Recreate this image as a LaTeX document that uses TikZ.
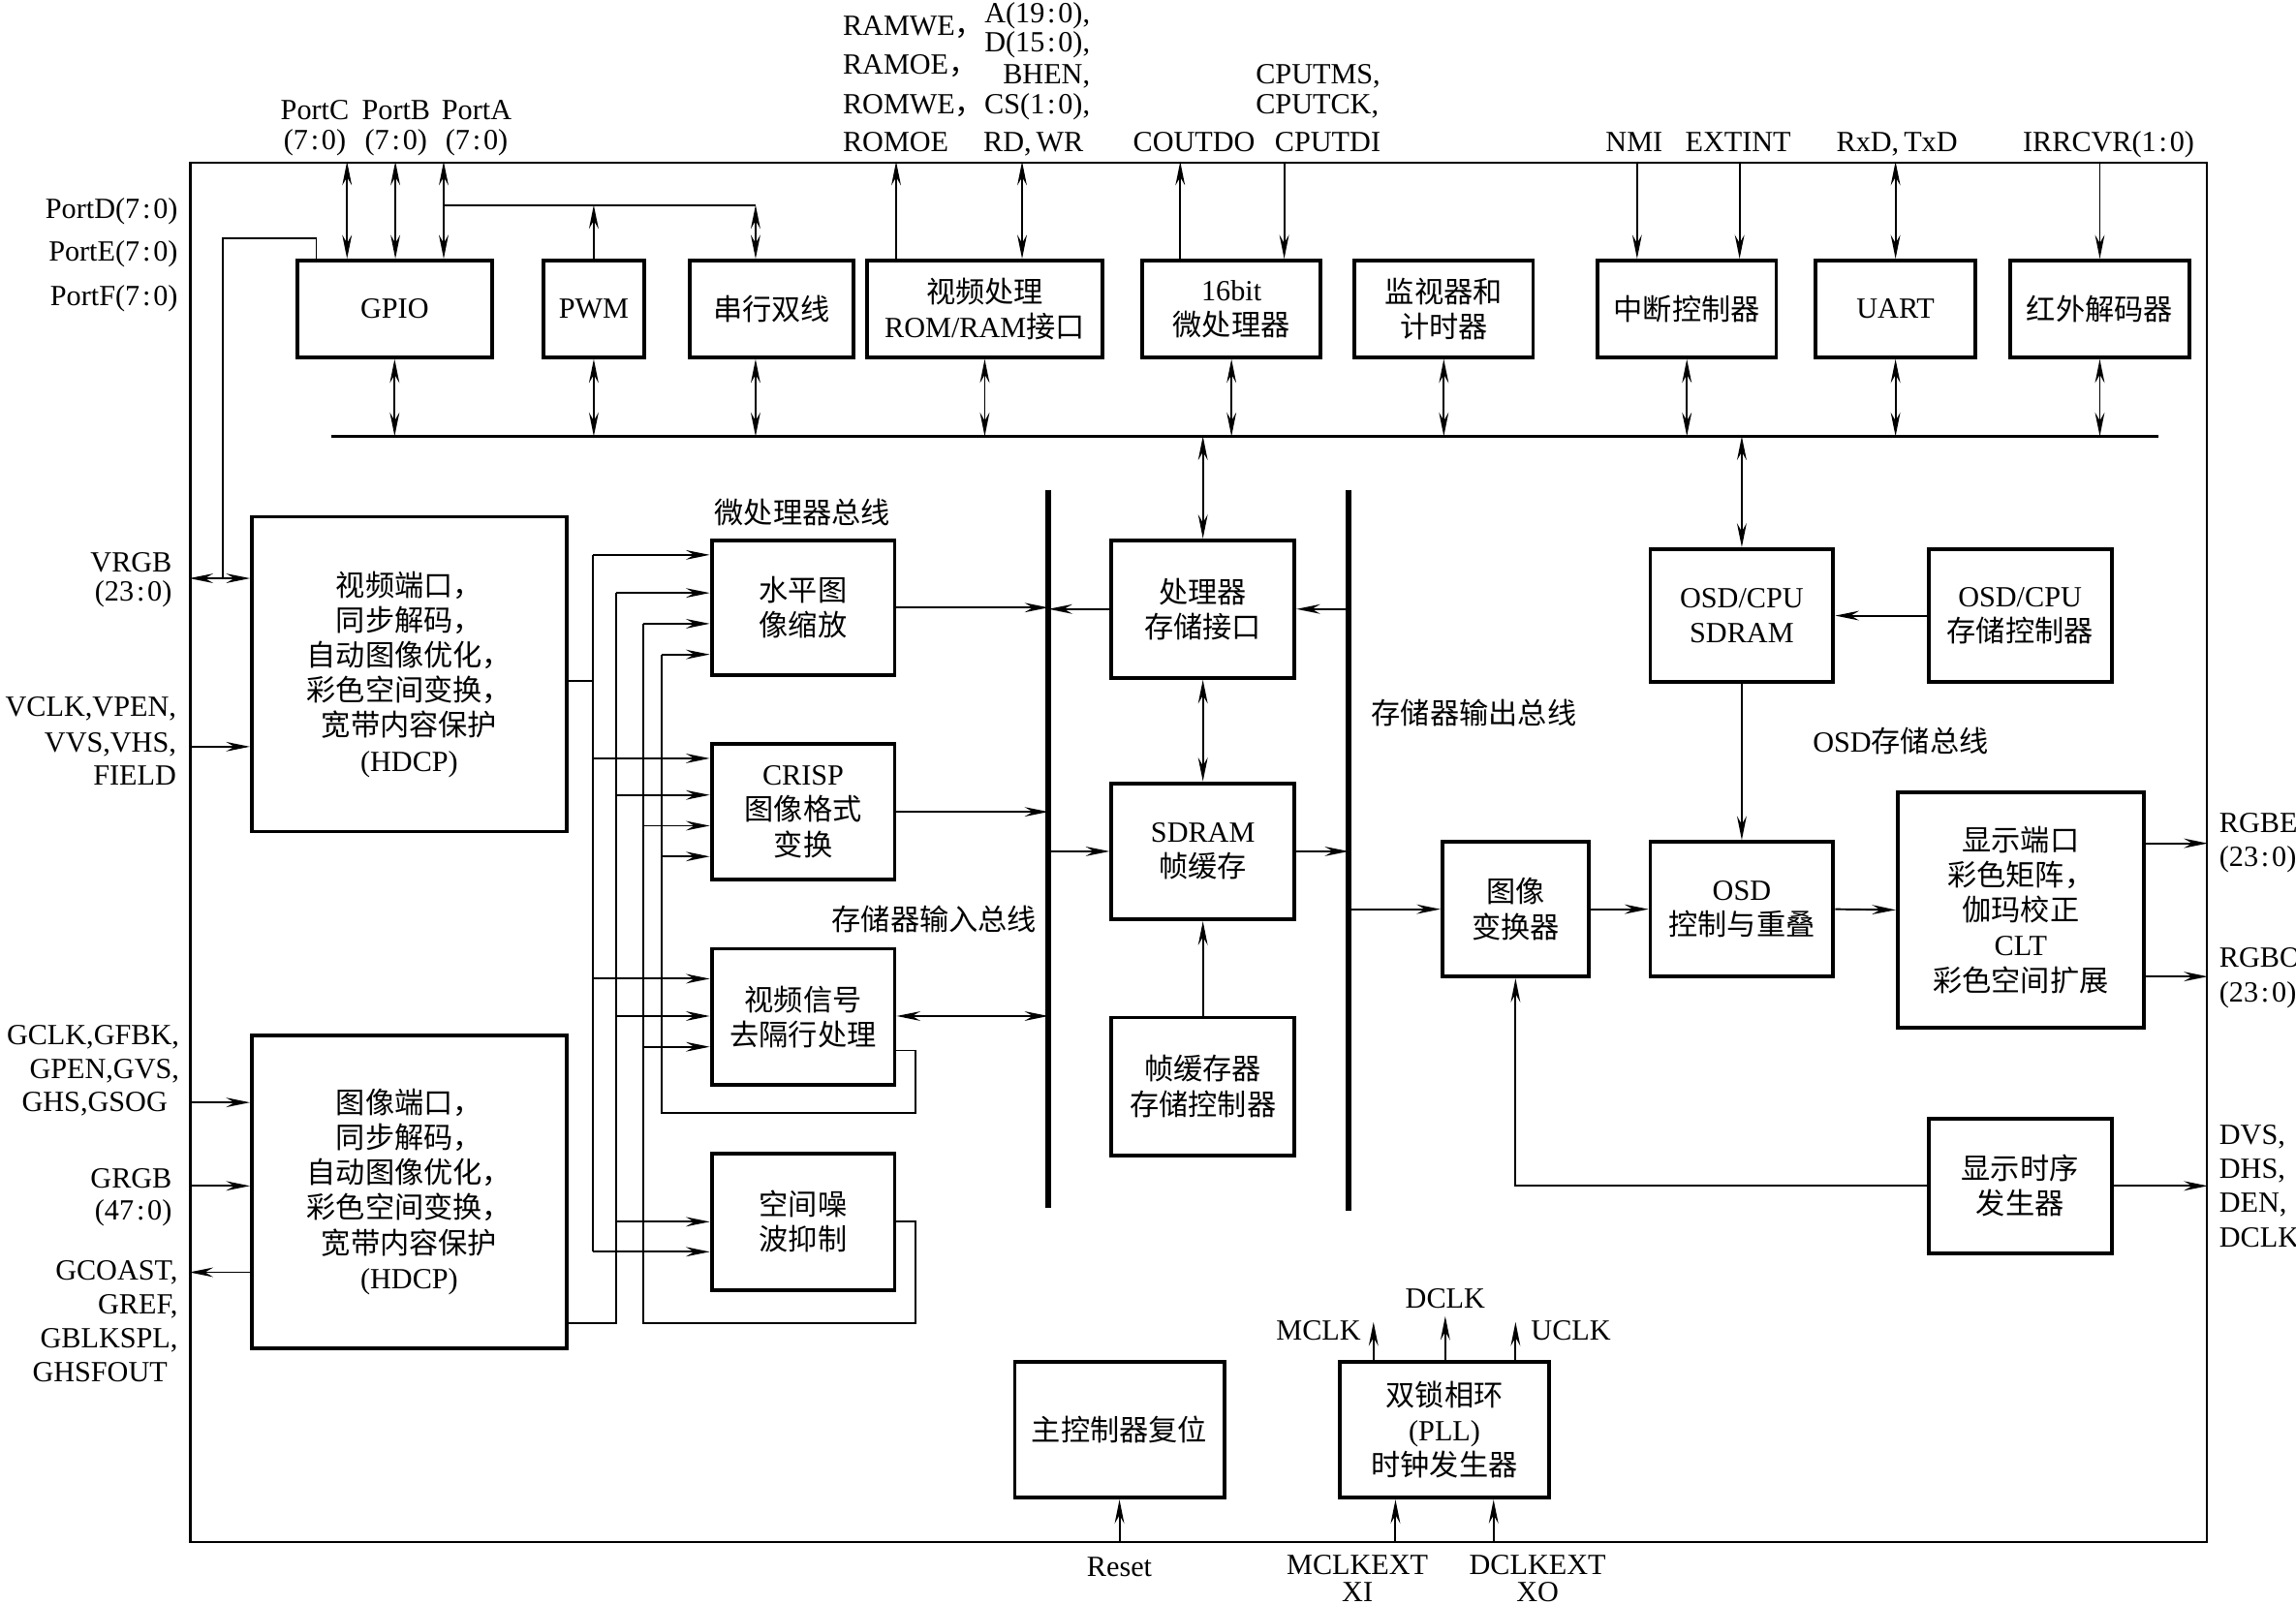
\documentclass[tikz,border=0pt]{standalone}
\usepackage{fontspec}
\setmainfont{Liberation Serif}
\newfontfamily\cjk{Noto Sans CJK SC}
\usetikzlibrary{arrows.meta}
\newcommand\zh[1]{{\cjk #1}}
\newcommand\rc{\kern0.8pt:\kern0.8pt}
\newcommand\fz{\fontsize{8.6pt}{10.3pt}\selectfont}
\def\unitpx{0.015115cm}
\begin{document}
\begin{tikzpicture}[x=\unitpx, y=-\unitpx, line width=0.55pt,
  >={Stealth[length=7pt,width=2.8pt,inset=2.4pt]},
  box/.style={draw, line width=1.1pt, inner sep=0pt, align=center, font=\fz},
  sz/.style 2 args={minimum width=#1*\unitpx, minimum height=#2*\unitpx},
  lbl/.style={inner sep=0pt, font=\fz},
  bus/.style={line width=1.6pt},
  frm/.style={draw, line width=0.6pt, inner sep=0pt}]
\useasboundingbox (0,0) rectangle (1568,1096);

% frame
\node[frm, sz={1377}{942}] (chip) at (818.5,582) {};

% top row boxes
\node[box, sz={133}{66}] (gpio) at (269.5,211) {GPIO};
\node[box, sz={69}{66}] (pwm) at (405.5,211) {PWM};
\node[box, sz={112}{66}] (serial) at (527,211) {\zh{串行双线}};
\node[box, sz={161}{66}] (romram) at (672.5,211) {\zh{视频处理}\\ROM/RAM\zh{接口}};
\node[box, sz={122}{66}] (cpu) at (841,211) {16bit\\\zh{微处理器}};
\node[box, sz={122}{66}] (wdt) at (986,211) {\zh{监视器和}\\\zh{计时器}};
\node[box, sz={122}{66}] (intc) at (1152,211) {\zh{中断控制器}};
\node[box, sz={109}{66}] (uart) at (1294.5,211) {UART};
\node[box, sz={122}{66}] (ir) at (1434,211) {\zh{红外解码器}};

% left big boxes
\node[box, sz={215}{215}] (vport) at (279.5,460.5) {\zh{视频端口，}\\\zh{同步解码，}\\\zh{自动图像优化，}\\\zh{彩色空间变换，}\\\zh{宽带内容保护}\\(HDCP)};
\node[box, sz={215}{214}] (gport) at (279.5,814) {\zh{图像端口，}\\\zh{同步解码，}\\\zh{自动图像优化，}\\\zh{彩色空间变换，}\\\zh{宽带内容保护}\\(HDCP)};

% middle column
\node[box, sz={125}{92}] (hscale) at (548.5,415) {\zh{水平图}\\\zh{像缩放}};
\node[box, sz={125}{93}] (crisp) at (548.5,554.5) {CRISP\\\zh{图像格式}\\\zh{变换}};
\node[box, sz={125}{93}] (deint) at (548.5,694.5) {\zh{视频信号}\\\zh{去隔行处理}};
\node[box, sz={125}{93}] (nr) at (548.5,834.5) {\zh{空间噪}\\\zh{波抑制}};

% centre column
\node[box, sz={125}{94}] (pmi) at (821.5,416) {\zh{处理器}\\\zh{存储接口}};
\node[box, sz={125}{93}] (sdram) at (821.5,581.5) {SDRAM\\\zh{帧缓存}};
\node[box, sz={125}{94}] (fbc) at (821.5,742) {\zh{帧缓存器}\\\zh{存储控制器}};

% right part
\node[box, sz={100}{92}] (imgconv) at (1035,621) {\zh{图像}\\\zh{变换器}};
\node[box, sz={125}{92}] (osdctl) at (1189.5,621) {OSD\\\zh{控制与重叠}};
\node[box, sz={168}{161}] (dport) at (1380,621.5) {\zh{显示端口}\\\zh{彩色矩阵，}\\\zh{伽玛校正}\\CLT\\\zh{彩色空间扩展}};
\node[box, sz={125}{91}] (osdsdram) at (1189.5,420.5) {OSD/CPU\\SDRAM};
\node[box, sz={125}{91}] (osdmc) at (1379.5,420.5) {OSD/CPU\\\zh{存储控制器}};
\node[box, sz={125}{92}] (dtg) at (1379.5,810) {\zh{显示时序}\\\zh{发生器}};

% bottom
\node[box, sz={143}{93}] (rst) at (764.5,976.5) {\zh{主控制器复位}};
\node[box, sz={143}{93}] (pll) at (986.5,976.5) {\zh{双锁相环}\\(PLL)\\\zh{时钟发生器}};

% ---------- labels ----------
\node[lbl, anchor=base] (lPC) at (215,81.5) {PortC};
\node[lbl, anchor=base] (lPC2) at (215,102.5) {(7\rc0)};
\node[lbl, anchor=base] (lPB) at (270.5,81.5) {PortB};
\node[lbl, anchor=base] (lPB2) at (270.5,102.5) {(7\rc0)};
\node[lbl, anchor=base] (lPA) at (325.5,81.5) {PortA};
\node[lbl, anchor=base] (lPA2) at (325.5,102.5) {(7\rc0)};
\node[lbl, anchor=base east] (lPD) at (122,149.5) {PortD(7\rc0)};
\node[lbl, anchor=base east] (lPE) at (122,178.5) {PortE(7\rc0)};
\node[lbl, anchor=base east] (lPF) at (122,208.5) {PortF(7\rc0)};

\node[lbl, anchor=base west] (lr1) at (575,24.3) {RAMWE\zh{，}};
\node[lbl, anchor=base west] (lr2) at (575,50.3) {RAMOE\zh{，}};
\node[lbl, anchor=base west] (lr3) at (575,77.5) {ROMWE\zh{，}};
\node[lbl, anchor=base west] (lr4) at (575,103.5) {ROMOE};
\node[lbl, anchor=base east] (la1) at (745,15.7) {A(19\rc0),};
\node[lbl, anchor=base east] (la2) at (745,35.2) {D(15\rc0),};
\node[lbl, anchor=base east] (la3) at (745,57.3) {BHEN,};
\node[lbl, anchor=base east] (la4) at (745,77.5) {CS(1\rc0),};
\node[lbl, anchor=base west] (la5) at (671,103.5) {RD,\,WR};
\node[lbl, anchor=base] (lco) at (815.5,103.5) {COUTDO};
\node[lbl, anchor=base west] (lc1) at (857,57.3) {CPUTMS,};
\node[lbl, anchor=base west] (lc2) at (857,77.5) {CPUTCK,};
\node[lbl, anchor=base west] (lc3) at (870,103.5) {CPUTDI};
\node[lbl, anchor=base] (lnmi) at (1116,103.5) {NMI};
\node[lbl, anchor=base] (lext) at (1187,103.5) {EXTINT};
\node[lbl, anchor=base] (lrxd) at (1295.5,103.5) {RxD,\,TxD};
\node[lbl, anchor=base] (lirr) at (1440,103.5) {IRRCVR(1\rc0)};

\node[lbl, anchor=base east] (lv1) at (118,390.5) {VRGB};
\node[lbl, anchor=base east] (lv2) at (118,410.5) {(23\rc0)};
\node[lbl, anchor=base east] (lv3) at (121,489.5) {VCLK,VPEN,};
\node[lbl, anchor=base east] (lv4) at (121,513.5) {VVS,VHS,};
\node[lbl, anchor=base east] (lv5) at (121,536.5) {FIELD};
\node[lbl, anchor=base east] (lg1) at (123,713.5) {GCLK,GFBK,};
\node[lbl, anchor=base east] (lg2) at (123,736.5) {GPEN,GVS,};
\node[lbl, anchor=base east] (lg3) at (115,759.5) {GHS,GSOG};
\node[lbl, anchor=base east] (lg4) at (118,811.5) {GRGB};
\node[lbl, anchor=base east] (lg5) at (118,833.5) {(47\rc0)};
\node[lbl, anchor=base east] (lg6) at (122,874.5) {GCOAST,};
\node[lbl, anchor=base east] (lg7) at (122,897.5) {GREF,};
\node[lbl, anchor=base east] (lg8) at (122,920.5) {GBLKSPL,};
\node[lbl, anchor=base east] (lg9) at (115,943.5) {GHSFOUT};

\node[lbl, anchor=base west] (lo1) at (1515,568.5) {RGBE};
\node[lbl, anchor=base west] (lo2) at (1515,592) {(23\rc0)};
\node[lbl, anchor=base west] (lo3) at (1515,660.5) {RGBO};
\node[lbl, anchor=base west] (lo4) at (1515,684.5) {(23\rc0)};
\node[lbl, anchor=base west] (ld1) at (1515,781.5) {DVS,};
\node[lbl, anchor=base west] (ld2) at (1515,804.5) {DHS,};
\node[lbl, anchor=base west] (ld3) at (1515,828) {DEN,};
\node[lbl, anchor=base west] (ld4) at (1515,851.5) {DCLK};

\node[lbl, anchor=base] (lmpb) at (548,357.5) {\zh{微处理器总线}};
\node[lbl, anchor=base] (lmib) at (638,635.5) {\zh{存储器输入总线}};
\node[lbl, anchor=base west] (lmob) at (936,494.5) {\zh{存储器输出总线}};
\node[lbl, anchor=base] (losb) at (1298,514) {OSD\zh{存储总线}};

\node[lbl, anchor=base] (lrst) at (764.5,1076.5) {Reset};
\node[lbl, anchor=base] (lmx1) at (927,1075.5) {MCLKEXT};
\node[lbl, anchor=base] (lmx2) at (927,1094) {XI};
\node[lbl, anchor=base] (ldx1) at (1050,1075.5) {DCLKEXT};
\node[lbl, anchor=base] (ldx2) at (1050,1094) {XO};
\node[lbl, anchor=base east] (lmclk) at (930,915.5) {MCLK};
\node[lbl, anchor=base] (ldclk) at (987,893.5) {DCLK};
\node[lbl, anchor=base west] (luclk) at (1045,915.5) {UCLK};

% ---------- connectors ----------
% top external
\draw[<->] (chip.north -| 237,0) -- (gpio.north -| 237,0);
\draw[<->] (chip.north -| 270,0) -- (gpio.north -| 270,0);
\draw[<->] (chip.north -| 303,0) -- (gpio.north -| 303,0);
\coordinate (pa) at (303,140);
\coordinate (pe) at (516,140);
\draw (pa) -- (pe);
\draw[->] (pwm.north) -- (pwm.north |- pa);
\draw[<->] (pe) -- (serial.north -| pe);
\coordinate (vj) at (152,395);
\draw (gpio.north -| 216,0) |- (152,163) -- (vj);
\draw[<->] (chip.west |- vj) -- (vport.west |- vj);

\draw[->] (romram.north -| 612,0) -- (chip.north -| 612,0);
\draw[<->] (chip.north -| 698,0) -- (romram.north -| 698,0);
\draw[->] (cpu.north -| 806,0) -- (chip.north -| 806,0);
\draw[->] (chip.north -| 877,0) -- (cpu.north -| 877,0);
\draw[->] (chip.north -| 1118,0) -- (intc.north -| 1118,0);
\draw[->] (chip.north -| 1188,0) -- (intc.north -| 1188,0);
\draw[<->] (chip.north -| uart.north) -- (uart.north);
\draw[->] (chip.north -| ir.north) -- (ir.north);

% top bus
\coordinate (tbL) at (226,298);
\coordinate (tbR) at (1474,298);
\draw[line width=0.8pt] (tbL) -- (tbR);
\foreach \n in {gpio,pwm,romram,cpu,wdt,intc,uart,ir}
  \draw[<->] (\n.south) -- (\n.south |- tbL);
\draw[<->] (serial.south -| pe) -- (tbL -| pe);
\draw[<->] (tbL -| pmi.north) -- (pmi.north);
\draw[<->] (tbL -| osdsdram.north) -- (osdsdram.north);

% left inputs / outputs
\draw[->] (chip.west |- 0,510) -- (vport.west |- 0,510);
\draw[->] (chip.west |- 0,753) -- (gport.west |- 0,753);
\draw[->] (chip.west |- 0,810) -- (gport.west |- 0,810);
\draw[->] (gport.west |- 0,869) -- (chip.west |- 0,869);

% fan-out bundle
\draw (vport.east |- 0,465) -- (405,465);
\draw (405,379) -- (405,855);
\draw (421,405) -- (421,904) -- (gport.east |- 0,904);
\draw (439,426) -- (439,904) -- (625,904) -- (625,834.5) -- (nr.east |- 0,834.5);
\draw (452,447) -- (452,760) -- (625,760) -- (625,717.5) -- (deint.east |- 0,717.5);
\foreach \x/\y/\n in {405/379/hscale, 421/405/hscale, 439/426/hscale, 452/447/hscale,
  405/518/crisp, 421/543/crisp, 439/564/crisp, 452/585/crisp,
  405/668.5/deint, 421/694/deint, 439/715/deint,
  421/834.5/nr, 405/855/nr}
  \draw[->] (\x,\y) -- (\n.west |- \x,\y);

% memory buses
\coordinate (ibT) at (716,335);
\coordinate (ibB) at (716,825);
\coordinate (obT) at (921,335);
\coordinate (obB) at (921,827);
\draw[bus] (ibT) -- (ibB);
\draw[bus] (obT) -- (obB);

\draw[->] (hscale.east) -- (hscale.east -| ibT);
\draw[->] (pmi.west) -- (pmi.west -| ibT);
\draw[->] (pmi.east -| obT) -- (pmi.east);
\draw[<->] (pmi.south) -- (sdram.north);
\draw[->] (crisp.east) -- (crisp.east -| ibT);
\draw[->] (sdram.west -| ibT) -- (sdram.west);
\draw[->] (sdram.east) -- (sdram.east -| obT);
\draw[<->] (deint.east |- 0,694) -- (ibT |- 0,694);
\draw[->] (fbc.north) -- (sdram.south);
\draw[->] (imgconv.west -| obT) -- (imgconv.west);

% right side
\draw[->] (osdmc.west) -- (osdsdram.east);
\draw[->] (osdsdram.south) -- (osdctl.north);
\draw[->] (imgconv.east) -- (osdctl.west);
\draw[->] (osdctl.east) -- (dport.west);
\draw[->] (dport.east |- 0,576) -- (chip.east |- 0,576);
\draw[->] (dport.east |- 0,667) -- (chip.east |- 0,667);
\draw[->] (dtg.east) -- (chip.east |- dtg.east);
\draw[->] (dtg.west) -| (imgconv.south);

% bottom
\draw[->] (chip.south -| rst.south) -- (rst.south);
\draw[->] (chip.south -| 953,0) -- (pll.south -| 953,0);
\draw[->] (chip.south -| 1020,0) -- (pll.south -| 1020,0);
\coordinate (cM) at (938,903);
\coordinate (cD) at (987,899);
\coordinate (cU) at (1035,903);
\draw[->] (pll.north -| cM) -- (cM);
\draw[->] (pll.north -| cD) -- (cD);
\draw[->] (pll.north -| cU) -- (cU);
\end{tikzpicture}
\end{document}
